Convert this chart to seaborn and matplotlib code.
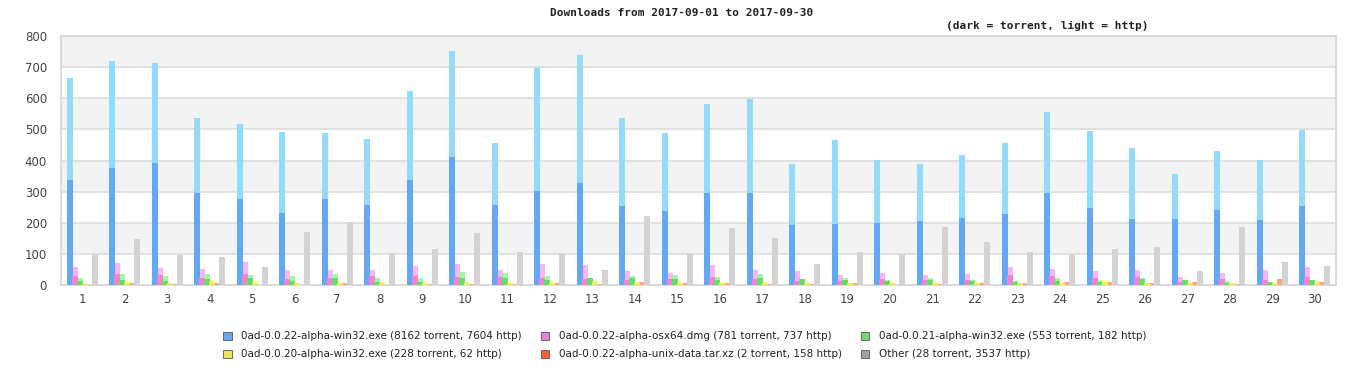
import pandas as pd
import matplotlib
matplotlib.use('Agg')
import matplotlib.pyplot as plt
import seaborn as sns
from matplotlib.patches import Patch

days = list(range(1, 31))

files = [
    '0ad-0.0.22-alpha-win32.exe',
    '0ad-0.0.22-alpha-osx64.dmg',
    '0ad-0.0.21-alpha-win32.exe',
    '0ad-0.0.20-alpha-win32.exe',
    '0ad-0.0.22-alpha-unix-data.tar.xz',
    'Other',
]
legend_labels = [
    '0ad-0.0.22-alpha-win32.exe (8162 torrent, 7604 http)',
    '0ad-0.0.22-alpha-osx64.dmg (781 torrent, 737 http)',
    '0ad-0.0.21-alpha-win32.exe (553 torrent, 182 http)',
    '0ad-0.0.20-alpha-win32.exe (228 torrent, 62 http)',
    '0ad-0.0.22-alpha-unix-data.tar.xz (2 torrent, 158 http)',
    'Other (28 torrent, 3537 http)',
]

# daily downloads
win22_torrent = [337, 376, 392, 296, 276, 231, 276, 257, 337, 411, 257, 302, 328, 254, 238,
                 296, 296, 193, 196, 199, 206, 215, 228, 296, 247, 212, 212, 241, 209, 254]
win22_http = [328, 344, 321, 241, 241, 261, 212, 212, 286, 341, 199, 395, 411, 283, 250,
              285, 302, 196, 270, 203, 183, 203, 228, 260, 248, 228, 145, 190, 193, 244]
osx_torrent = [29, 35, 32, 22, 35, 19, 22, 29, 29, 26, 26, 22, 19, 16, 19,
               26, 19, 13, 13, 19, 16, 16, 32, 29, 22, 26, 10, 19, 16, 26]
osx_http = [29, 36, 23, 29, 39, 29, 26, 19, 32, 41, 22, 45, 45, 29, 20,
            38, 29, 32, 19, 20, 16, 19, 26, 22, 23, 22, 16, 20, 32, 32]
win21_torrent = [13, 16, 13, 19, 22, 13, 22, 10, 10, 22, 22, 16, 22, 22, 19,
                 16, 22, 19, 16, 13, 16, 13, 10, 13, 10, 19, 16, 6, 10, 16]
win21_http = [9, 19, 16, 16, 10, 16, 13, 12, 12, 20, 17, 13, 0, 7, 13,
              10, 13, 0, 6, 3, 6, 3, 3, 9, 6, 3, 0, 7, 0, 0]
win20_torrent = [4, 8, 5, 10, 8, 5, 7, 7, 5, 8, 8, 8, 10, 8, 8,
                 8, 8, 8, 5, 8, 8, 8, 5, 5, 10, 5, 8, 5, 5, 8]
win20_http = [2, 5, 1, 6, 5, 1, 3, 3, 1, 2, 2, 2, 3, 2, 2,
              2, 2, 2, 1, 2, 2, 2, 1, 1, 6, 1, 2, 1, 1, 5]
unix_torrent = [0, 1, 0, 0, 0, 0, 0, 0, 0, 0, 0, 0, 0, 0, 0,
                0, 0, 0, 0, 0, 0, 0, 0, 1, 0, 0, 0, 0, 0, 0]
unix_http = [0, 6, 3, 6, 0, 0, 6, 0, 3, 3, 3, 6, 3, 10, 6,
             6, 3, 3, 6, 0, 3, 6, 6, 10, 10, 6, 10, 3, 19, 10]
other_torrent = [1, 1, 1, 1, 0, 1, 1, 1, 1, 1, 1, 1, 0, 1, 1,
                 1, 1, 1, 1, 1, 1, 1, 1, 1, 1, 1, 0, 1, 1, 1]
other_http = [100, 148, 96, 90, 58, 170, 202, 103, 116, 167, 106, 103, 48, 222, 103,
              183, 151, 67, 106, 100, 186, 138, 106, 96, 116, 122, 45, 186, 74, 61]

dark_colors = ['#62a8f2', '#f382d2', '#66dd66', '#f0ee60', '#ff8a5c', '#a8a8a8']
light_colors = ['#93dbfd', '#fdb3fb', '#a2f7a2', '#ffff8c', '#ffa585', '#d3d3d3']
legend_colors = ['#6aa8ec', '#e67fd6', '#72d872', '#e8e65e', '#f0643c', '#a0a0a0']

torrents = [win22_torrent, osx_torrent, win21_torrent, win20_torrent, unix_torrent, other_torrent]
https = [win22_http, osx_http, win21_http, win20_http, unix_http, other_http]

rows = []
for name, tor, htp in zip(files, torrents, https):
    for d, t, h in zip(days, tor, htp):
        rows.append({'day': d, 'file': name, 'torrent': t, 'total': t + h})
df = pd.DataFrame(rows)

sns.set_style('white')
plt.rcParams['font.family'] = ['DejaVu Sans']

fig = plt.figure(figsize=(13.66, 3.8), dpi=100)
ax = fig.add_axes([61 / 1366, 1 - 285 / 380, 1275 / 1366, 249 / 380])

# alternating horizontal bands
for lo in range(100, 800, 200):
    ax.axhspan(lo, lo + 100, color='#f3f3f3', zorder=0, lw=0)

sns.barplot(data=df, x='day', y='total', hue='file', hue_order=files,
            palette=light_colors, saturation=1, width=0.71, errorbar=None,
            legend=False, ax=ax, zorder=3, linewidth=0, edgecolor='none')
sns.barplot(data=df, x='day', y='torrent', hue='file', hue_order=files,
            palette=dark_colors, saturation=1, width=0.71, errorbar=None,
            legend=False, ax=ax, zorder=4, linewidth=0, edgecolor='none')

# bars in the original overlap their neighbour by about a pixel
for cont in ax.containers:
    for bar in cont:
        w = bar.get_width()
        bar.set_x(bar.get_x() - 0.012)
        bar.set_width(w + 0.024)

ax.set_xlim(-0.5, 29.5)
ax.set_ylim(0, 800)
ax.set_yticks(range(0, 801, 100))
ax.yaxis.grid(True, color='#dddddd', lw=1.2, zorder=1)
ax.set_axisbelow(True)
ax.set_xlabel('')
ax.set_ylabel('')
ax.tick_params(axis='both', length=0, labelsize=8.5, colors='#444444')
ax.tick_params(axis='y', pad=10)
ax.tick_params(axis='x', pad=6)
for s in ax.spines.values():
    s.set_color('#d5d5d5')
    s.set_linewidth(1.2)

fig.text(682 / 1366, 1 - 13 / 380, 'Downloads from 2017-09-01 to 2017-09-30',
         ha='center', va='center', family='DejaVu Sans Mono', fontweight='bold',
         fontsize=8, color='#222222')
fig.text(1047 / 1366, 1 - 26 / 380, '(dark = torrent, light = http)',
         ha='center', va='center', family='DejaVu Sans Mono', fontweight='bold',
         fontsize=8, color='#222222')

handles = [Patch(facecolor=c, edgecolor='#555555', lw=0.6) for c in legend_colors]
order = [0, 3, 1, 4, 2, 5]
fig.legend([handles[i] for i in order], [legend_labels[i] for i in order],
           ncol=3, loc='upper left', bbox_to_anchor=(214 / 1366, 1 - 322 / 380),
           frameon=False, fontsize=7.5, handlelength=0.8, handleheight=0.8,
           handletextpad=0.9, columnspacing=1.85, labelspacing=0.75,
           labelcolor='#222222')

fig.savefig('out.png', dpi=100)
